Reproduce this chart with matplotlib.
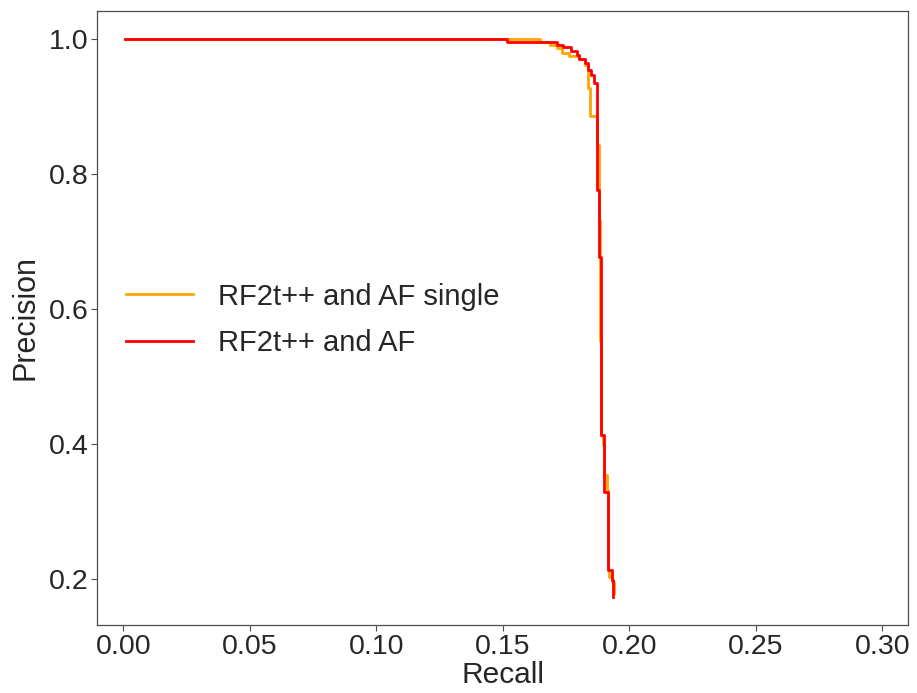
import matplotlib
matplotlib.use("Agg")
import matplotlib.pyplot as plt

plt.rcParams["font.family"] = ["Liberation Sans", "DejaVu Sans"]

# curva precision-recall, pontos de inicio de cada degrau (steps-post)
recall_single = [0.0005, 0.1647, 0.1687, 0.1713, 0.1733, 0.1763, 0.1800,
                 0.1826, 0.1838, 0.1846, 0.1871, 0.1881, 0.1886, 0.1889,
                 0.1895, 0.1901, 0.1913, 0.1917, 0.1921, 0.1930, 0.1940]
precision_single = [1.0, 0.995, 0.9916, 0.9861, 0.9797, 0.9748, 0.9703,
                    0.962, 0.9274, 0.8853, 0.8433, 0.732, 0.552, 0.4134,
                    0.398, 0.354, 0.332, 0.2133, 0.203, 0.195, 0.180]

recall_full = [0.0005, 0.1515, 0.1713, 0.1737, 0.1768, 0.1792, 0.1800,
               0.1826, 0.1838, 0.1849, 0.1860, 0.1871, 0.1879, 0.1889,
               0.1901, 0.1917, 0.1930, 0.1937]
precision_full = [1.0, 0.995, 0.9916, 0.9876, 0.9827, 0.9767, 0.9703,
                  0.9644, 0.9545, 0.947, 0.9348, 0.7756, 0.6777, 0.4134,
                  0.3294, 0.2133, 0.1985, 0.1737]

labels = ["RF2t++ and AF single", "RF2t++ and AF"]
colors = ["orange", "red"]

text_color = "#262626"
spine_color = "#4d4d4d"

fig = plt.figure(figsize=(9.17, 6.93), dpi=100)
ax = fig.add_axes([0.1061, 0.0986, 0.8841, 0.8855])

ax.plot(recall_single, precision_single, drawstyle="steps-post",
        color=colors[0], linewidth=2, label=labels[0])
ax.plot(recall_full, precision_full, drawstyle="steps-post",
        color=colors[1], linewidth=2, label=labels[1])

ax.set_xlim(-0.0103, 0.3102)
ax.set_xticks([0.0, 0.05, 0.10, 0.15, 0.20, 0.25, 0.30])
ax.set_yticks([0.2, 0.4, 0.6, 0.8, 1.0])

ax.set_xlabel("Recall", fontsize=21.5, color=text_color, labelpad=1)
ax.set_ylabel("Precision", fontsize=22, color=text_color, labelpad=6)

ax.tick_params(axis="both", labelsize=20.5, labelcolor=text_color,
               color=spine_color, length=4, width=0.8, pad=2.5)
for s in ax.spines.values():
    s.set_color(spine_color)
    s.set_linewidth(0.9)

ax.legend(loc="center left", bbox_to_anchor=(0.0206, 0.4965),
          borderaxespad=0, frameon=False, fontsize=21,
          labelcolor=text_color,
          handlelength=2.3, handletextpad=0.85, labelspacing=0.65)

fig.savefig("out.png", dpi=100)
